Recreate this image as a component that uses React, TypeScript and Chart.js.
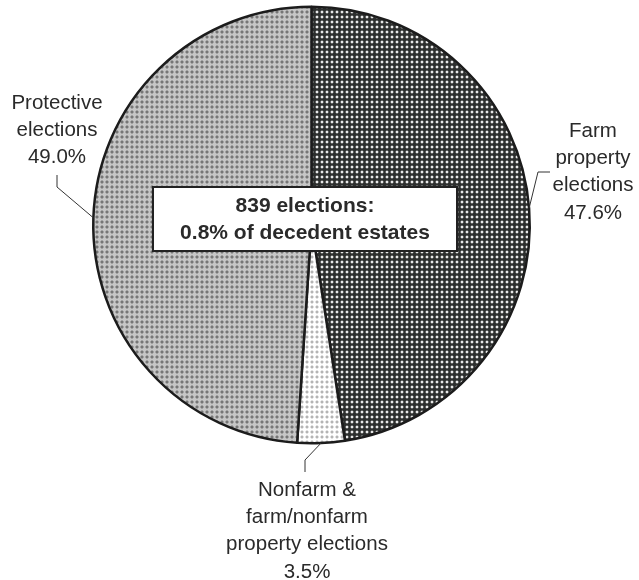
import React, { useEffect, useRef } from "react";
import { Chart, registerables } from "chart.js";

Chart.register(...registerables);

const categories = [
  "Farm property elections",
  "Nonfarm & farm/nonfarm property elections",
  "Protective elections",
];
const shares = [47.6, 3.5, 49.0];
const shareLabels = ["47.6%", "3.5%", "49.0%"];
const labelLines = [
  ["Farm", "property", "elections"],
  ["Nonfarm &", "farm/nonfarm", "property elections"],
  ["Protective", "elections"],
];
const boxLines = ["839 elections:", "0.8% of decedent estates"];

const W = 639;
const H = 580;
const TEXT = "#2a2a2a";
const FONT = '20.5px "Liberation Sans", Arial, sans-serif';
const BOLD = 'bold 21px "Liberation Sans", Arial, sans-serif';

// label layout: text centre x, first line y, elbow points of leader
const labelLayout = [
  { x: 593, y: 131, elbow: [538, 172], end: [550, 172] },
  { x: 307, y: 490, elbow: [305, 460], end: [305, 472] },
  { x: 57, y: 103, elbow: [57, 187], end: [57, 175] },
];

function makePattern(bg: string, dot: string, halo: string) {
  const c = document.createElement("canvas");
  c.width = 5;
  c.height = 5;
  const x = c.getContext("2d")!;
  x.fillStyle = bg;
  x.fillRect(0, 0, 5, 5);
  x.fillStyle = halo;
  x.fillRect(1, 0, 2, 1);
  x.fillRect(0, 1, 1, 2);
  x.fillRect(3, 1, 1, 2);
  x.fillRect(1, 3, 2, 1);
  x.fillStyle = dot;
  x.fillRect(1, 1, 2, 2);
  const p = x.createPattern(c, "repeat");
  return p as CanvasPattern;
}

const annotations = {
  id: "annotations",
  afterDraw(chart: any) {
    const ctx = chart.ctx as CanvasRenderingContext2D;
    const meta = chart.getDatasetMeta(0);
    ctx.save();
    ctx.strokeStyle = "#333";
    ctx.lineWidth = 1;
    meta.data.forEach((arc: any, i: number) => {
      const p = arc.getProps(["x", "y", "startAngle", "endAngle", "outerRadius"], true);
      const mid = (p.startAngle + p.endAngle) / 2;
      const ax = p.x + p.outerRadius * Math.cos(mid);
      const ay = p.y + p.outerRadius * Math.sin(mid);
      const L = labelLayout[i];
      ctx.beginPath();
      ctx.moveTo(ax, ay);
      ctx.lineTo(L.elbow[0], L.elbow[1]);
      ctx.lineTo(L.end[0], L.end[1]);
      ctx.stroke();
      ctx.fillStyle = TEXT;
      ctx.font = FONT;
      ctx.textAlign = "center";
      ctx.textBaseline = "middle";
      const lines = [...labelLines[i], shareLabels[i]];
      lines.forEach((t, k) => ctx.fillText(t, L.x, L.y + k * 27.3));
    });
    const bx = 153, by = 187, bw = 304, bh = 64;
    ctx.fillStyle = "#fff";
    ctx.fillRect(bx, by, bw, bh);
    ctx.strokeStyle = "#222";
    ctx.lineWidth = 2;
    ctx.strokeRect(bx, by, bw, bh);
    ctx.fillStyle = TEXT;
    ctx.font = BOLD;
    ctx.textAlign = "center";
    ctx.textBaseline = "middle";
    boxLines.forEach((t, k) => ctx.fillText(t, bx + bw / 2, by + 19 + k * 27));
    ctx.restore();
  },
};

export default function App() {
  const ref = useRef<HTMLCanvasElement>(null);
  useEffect(() => {
    document.body.style.margin = "0";
    const canvas = ref.current!;
    const colors = [
      makePattern("#2d2f2e", "#e8e8e8", "#5e605f"),
      makePattern("#ffffff", "#b4b4b4", "#e2e2e2"),
      makePattern("#c6c6c6", "#767676", "#a2a2a2"),
    ];
    const chart = new Chart(canvas, {
      type: "pie",
      data: {
        labels: categories,
        datasets: [
          {
            data: shares,
            backgroundColor: colors,
            borderColor: "#1c1c1c",
            borderWidth: 2.5,
          },
        ],
      },
      options: {
        responsive: false,
        animation: false,
        devicePixelRatio: 1,
        layout: { padding: { left: 92, right: 108, top: 5.5, bottom: 135.5 } },
        plugins: {
          legend: { display: false },
          tooltip: { enabled: false },
        },
      },
      plugins: [annotations],
    });
    return () => chart.destroy();
  }, []);
  return (
    <div style={{ position: "absolute", left: 0, top: 0, width: W, height: H, background: "#fff" }}>
      <canvas ref={ref} width={W} height={H} style={{ width: W, height: H, display: "block" }} />
    </div>
  );
}
